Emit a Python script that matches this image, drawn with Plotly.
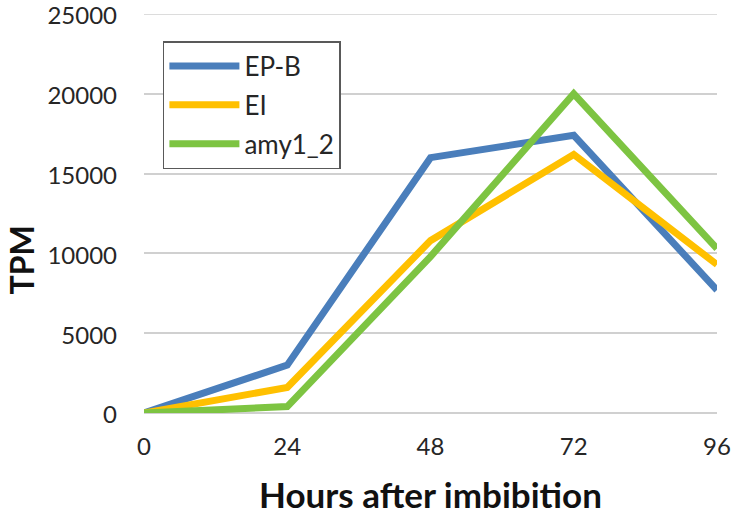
import plotly.graph_objects as go

hours = [0, 24, 48, 72, 96]
ep_b = [0, 3000, 16000, 17400, 7700]
ei = [0, 1600, 10800, 16200, 9300]
amy1_2 = [0, 400, 9800, 20000, 10300]
y_ticks = [0, 5000, 10000, 15000, 20000, 25000]

series = [
    ("EP-B", ep_b, "#4a7ebb"),
    ("EI", ei, "#ffc000"),
    ("amy1_2", amy1_2, "#7dc442"),
]

font_family = "Lato, 'Open Sans', sans-serif"
grid_color = "#d0d0d0"

fig = go.Figure()
for i, (name, vals, color) in enumerate(series):
    fig.add_trace(go.Scatter(
        x=hours, y=vals, mode="lines", name=name,
        legendgroup=f"g{i}",
        line=dict(color=color, width=7),
    ))

fig.update_layout(
    width=739, height=515,
    margin=dict(l=144, r=22, t=14, b=102, autoexpand=False),
    paper_bgcolor="white", plot_bgcolor="white",
    font=dict(family=font_family, color="#404040", size=20),
    showlegend=True,
    legend=dict(
        x=0.033, y=0.932, xanchor="left", yanchor="top",
        bgcolor="white", bordercolor="#595959", borderwidth=1.5,
        font=dict(size=26, color="#262626", family=font_family),
        traceorder="grouped", tracegroupgap=2, itemwidth=70,
    ),
    xaxis=dict(
        range=[0, 96], tickvals=hours, ticktext=[str(h) for h in hours],
        showgrid=False, zeroline=False, showline=False, automargin=False,
        ticks="", ticklabelstandoff=17, ticklabeloverflow="allow",
        tickfont=dict(size=24, color="#262626"),
        title=dict(text="<b>Hours after imbibition</b>",
                   font=dict(size=35, color="#111111"), standoff=28),
    ),
    yaxis=dict(
        range=[0, 25000], tickvals=y_ticks, ticktext=[str(v) for v in y_ticks],
        showgrid=True, gridcolor=grid_color, gridwidth=1.5,
        zeroline=True, zerolinecolor=grid_color, zerolinewidth=1.5,
        showline=False, ticks="", ticklabelstandoff=26, automargin=False,
        ticklabeloverflow="allow", ticklabelshift=2,
        tickfont=dict(size=24, color="#262626"),
    ),
    shapes=[dict(
        type="line", xref="paper", x0=0, x1=1, yref="y",
        y0=y_ticks[-1], y1=y_ticks[-1], layer="below",
        line=dict(color=grid_color, width=1.5),
    )],
    annotations=[dict(
        text="<b>TPM</b>", xref="paper", yref="paper",
        x=-0.214, y=0.383, xanchor="center", yanchor="middle",
        textangle=-90, showarrow=False,
        font=dict(size=32, color="#111111", family=font_family),
    )],
)

fig.write_html(
    "out.html",
    config={"displayModeBar": False},
    post_script="document.body.style.margin='0';document.body.style.overflow='hidden';",
)
